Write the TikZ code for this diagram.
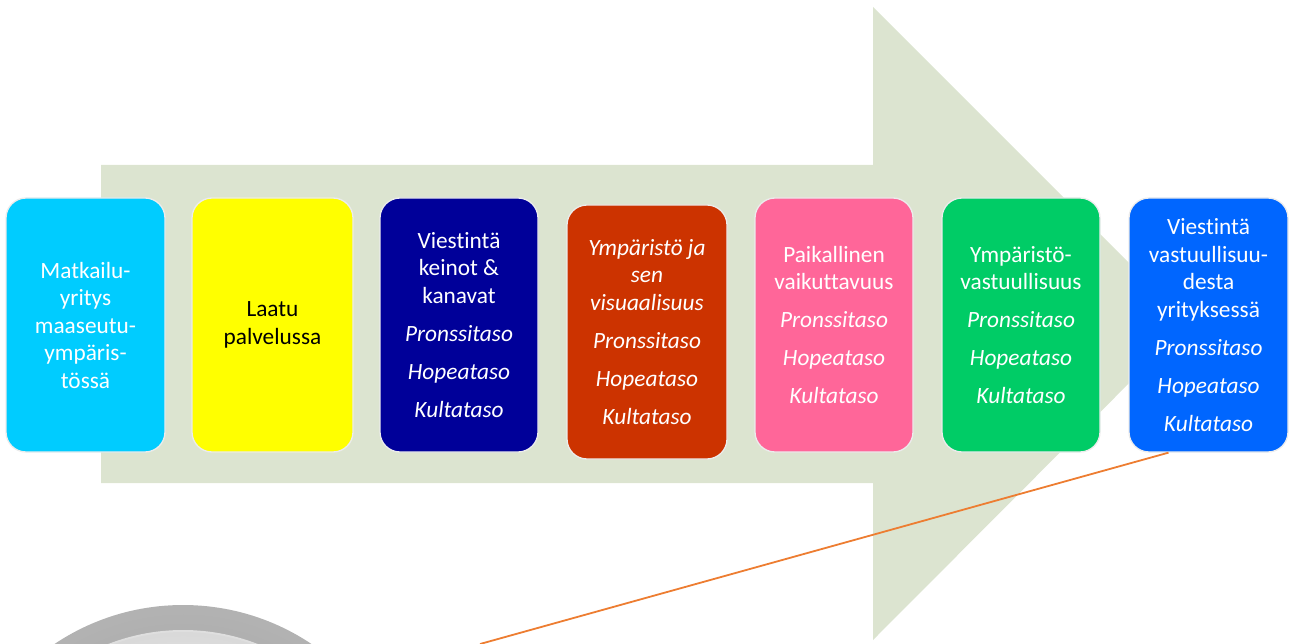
\documentclass[tikz,border=0pt]{standalone}
\usepackage{fontspec}
\setmainfont{Carlito}[Ligatures=NoCommon]
\begin{document}
\definecolor{arrowfill}{RGB}{220,228,208}
\definecolor{cyanbox}{RGB}{0,204,255}
\definecolor{yellowbox}{RGB}{255,255,0}
\definecolor{navybox}{RGB}{0,0,153}
\definecolor{rustbox}{RGB}{204,51,0}
\definecolor{pinkbox}{RGB}{255,102,153}
\definecolor{greenbox}{RGB}{0,204,102}
\definecolor{bluebox}{RGB}{0,102,255}
\definecolor{linkorange}{RGB}{237,125,49}
\begin{tikzpicture}[x=1pt,y=-1pt,
  stagebox/.style={rounded corners=20pt, draw=white!85!gray, line width=1.3pt,
    minimum height=254pt, inner sep=0pt, align=center, text=white,
    font=\fontsize{23.3}{27.5}\selectfont}]
\useasboundingbox (0,0) rectangle (1290,644);

% big background arrow
\fill[arrowfill] (101,165) -- (873,165) -- (873,7) -- (1189,323)
  -- (873,640) -- (873,483) -- (101,483) -- cycle;

% medallion ring at the lower left
\begin{scope}
  \clip (0,0) rectangle (1290,644);
  \shade[inner color=gray!80, outer color=gray!60] (183,836) circle (231);
  \fill[gray!25] (183,836) circle (206);
  \shade[inner color=white, outer color=gray!30] (183,836) circle (204);
\end{scope}

\newcommand{\lv}[1]{\\[10.5pt]\textit{#1}}

\node[stagebox, fill=cyanbox, minimum width=159pt] (b1) at (85.5,325)
  {Matkailu-\\yritys\\maaseutu-\\ympäris-\\tössä};
\node[stagebox, fill=yellowbox, minimum width=161pt, text=black] (b2) at (272.5,325)
  {Laatu\\palvelussa};
\node[stagebox, fill=navybox, minimum width=158pt] (b3) at (459,325)
  {Viestintä\\keinot \&\\kanavat\lv{Pronssitaso}\lv{Hopeataso}\lv{Kultataso}};
\node[stagebox, fill=rustbox, minimum width=160pt] (b4) at (647,332)
  {\textit{Ympäristö ja}\\\textit{sen}\\\textit{visuaalisuus}\lv{Pronssitaso}\lv{Hopeataso}\lv{Kultataso}};
\node[stagebox, fill=pinkbox, minimum width=158pt] (b5) at (834,325)
  {Paikallinen\\vaikuttavuus\lv{Pronssitaso}\lv{Hopeataso}\lv{Kultataso}};
\node[stagebox, fill=greenbox, minimum width=158pt] (b6) at (1021,325)
  {Ympäristö-\\vastuullisuus\lv{Pronssitaso}\lv{Hopeataso}\lv{Kultataso}};
\node[stagebox, fill=bluebox, minimum width=159pt] (b7) at (1208.5,325)
  {Viestintä\\vastuullisuu-\\desta\\yrityksessä\lv{Pronssitaso}\lv{Hopeataso}\lv{Kultataso}};

% pointer line from the last stage down to the medallion
\coordinate (linkend) at (480,644);
\draw[linkorange, line width=1.8pt] ([xshift=-40pt]b7.south) -- (linkend);
\end{tikzpicture}
\end{document}
